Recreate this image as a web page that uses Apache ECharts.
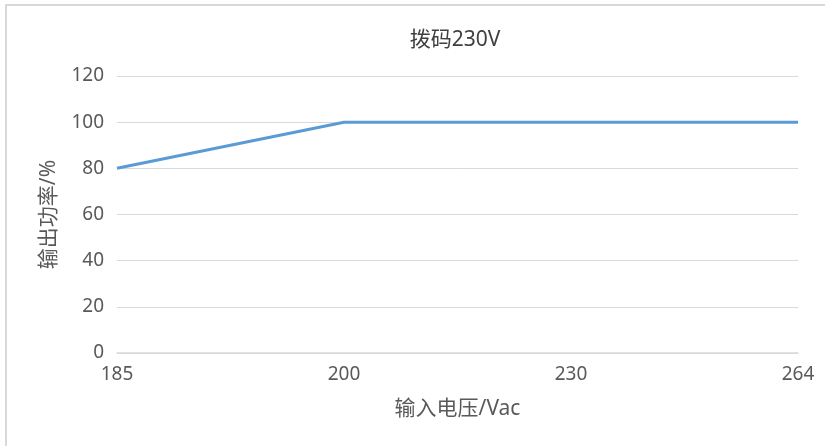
<!DOCTYPE html>
<html>
<head>
<meta charset="utf-8">
<script src="https://cdn.jsdelivr.net/npm/echarts@6/dist/echarts.min.js"></script>
<style>
  body { margin: 0; background: #fff; }
  #main { width: 825px; height: 446px; }
</style>
</head>
<body>
<div id="main"></div>
<script>
// 输入电压 (Vac) 类别
var voltages = ['185', '200', '230', '264'];
// 输出功率 (%)
var power = [80, 100, 100, 100];
var yTicks = [0, 20, 40, 60, 80, 100, 120];

var font = '"Noto Sans", "Noto Sans CJK SC", sans-serif';
var chart = echarts.init(document.getElementById('main'));

var option = {
  backgroundColor: '#fff',
  animation: false,
  title: {
    text: '拨码230V',
    left: 450,
    textAlign: 'center',
    top: 25,
    textStyle: { fontFamily: font, fontSize: 21, fontWeight: 'normal', color: '#404040' }
  },
  graphic: [{
    type: 'rect',
    shape: { x: 6, y: 5, width: 840, height: 470 },
    style: { fill: 'none', stroke: '#d9d9d9', lineWidth: 2 },
    silent: true
  }],
  grid: { left: 117, right: 27, top: 76, bottom: 93 },
  xAxis: {
    type: 'category',
    boundaryGap: false,
    data: voltages,
    name: '输入电压/Vac',
    nameLocation: 'middle',
    nameGap: 46,
    nameTextStyle: { fontFamily: font, fontSize: 21, color: '#595959' },
    axisLine: { lineStyle: { color: '#d9d9d9', width: 1.5 } },
    axisTick: { show: false },
    axisLabel: { fontFamily: font, fontSize: 19, color: '#595959', margin: 12 }
  },
  yAxis: {
    type: 'value',
    min: yTicks[0],
    max: yTicks[yTicks.length - 1],
    interval: 20,
    name: '输出功率/%',
    nameLocation: 'middle',
    nameGap: 57,
    nameTextStyle: { fontFamily: font, fontSize: 21, color: '#595959' },
    axisLine: { show: false },
    axisTick: { show: false },
    axisLabel: { fontFamily: font, fontSize: 19, color: '#595959', margin: 13 },
    splitLine: { lineStyle: { color: '#d9d9d9', width: 1 } }
  },
  series: [{
    type: 'line',
    data: power,
    symbol: 'none',
    lineStyle: { color: '#5b9bd5', width: 3 }
  }]
};

chart.setOption(option);
</script>
</body>
</html>
